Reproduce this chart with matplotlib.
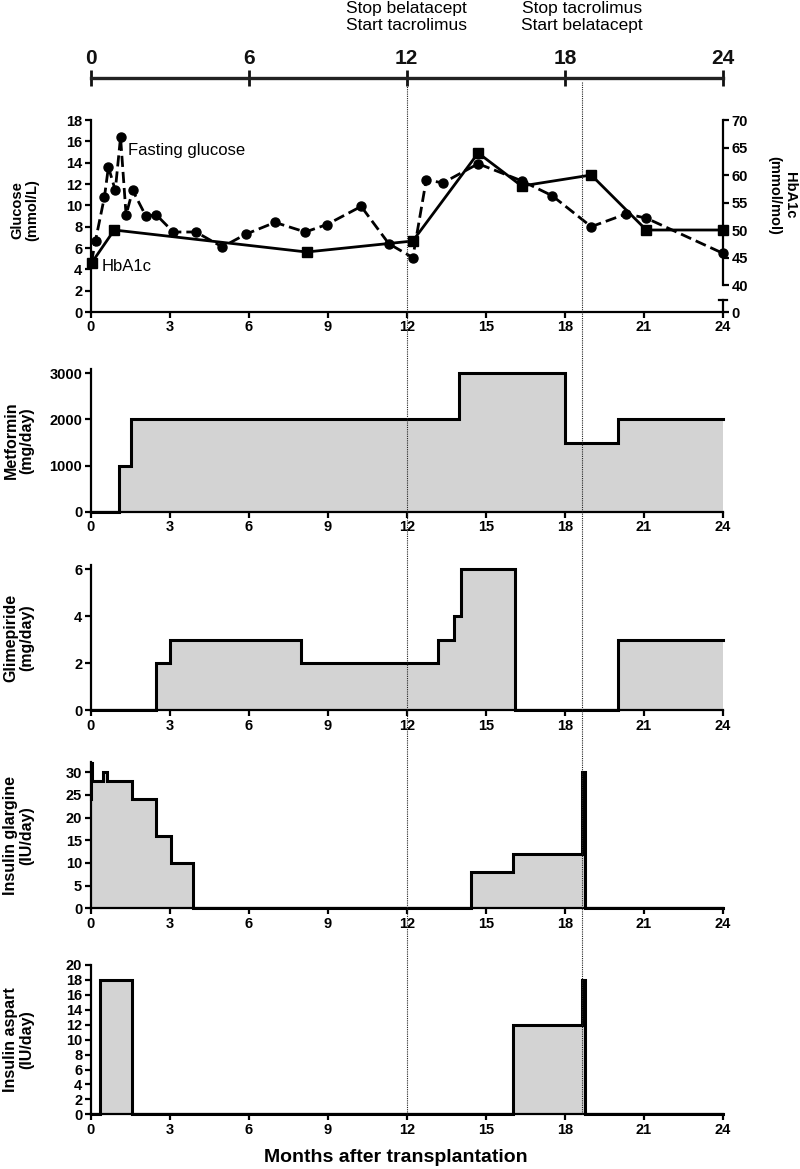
import matplotlib
matplotlib.use('Agg')
import matplotlib.pyplot as plt
from matplotlib.lines import Line2D
import matplotlib.transforms as mtransforms

W, H = 800, 1169
NARROW = ['Liberation Sans Narrow', 'Liberation Sans', 'DejaVu Sans']
SANS = ['Liberation Sans', 'DejaVu Sans']
plt.rcParams['font.family'] = SANS

# ---------------- data ----------------
timeline_ticks = [0, 6, 12, 18, 24]
panel_xticks = [0, 3, 6, 9, 12, 15, 18, 21, 24]
event_months = [12.0, 18.65]
event_labels = ['Stop belatacept\nStart tacrolimus', 'Stop tacrolimus\nStart belatacept']

glucose_month = [0.04, 0.19, 0.53, 0.68, 0.94, 1.14, 1.35, 1.6, 2.1, 2.5, 3.14, 4.0, 5.0,
                 5.9, 7.0, 8.15, 8.97, 10.27, 11.32, 12.23, 12.74, 13.37, 14.71, 16.36,
                 17.52, 19.0, 20.33, 21.09, 24.0]
glucose_mmol = [4.7, 6.7, 10.8, 13.6, 11.4, 16.4, 9.1, 11.4, 9.0, 9.1, 7.5, 7.5, 6.1,
                7.3, 8.4, 7.5, 8.2, 9.9, 6.4, 5.1, 12.4, 12.1, 13.9, 12.3,
                10.9, 8.0, 9.2, 8.8, 5.5]

hba1c_month = [0.04, 0.9, 8.2, 12.23, 14.71, 16.36, 19.0, 21.09, 24.0]
hba1c_mmolmol = [44, 50, 46, 48, 64, 58, 60, 50, 50]

glucose_yticks = [0, 2, 4, 6, 8, 10, 12, 14, 16, 18]
hba1c_yticks = [40, 45, 50, 55, 60, 65, 70]

metformin_month = [0, 1.1, 1.55, 14.0, 18.0, 20.0, 24]
metformin_dose = [0, 1000, 2000, 3000, 1500, 2000, 2000]
metformin_yticks = [0, 1000, 2000, 3000]

glimepiride_month = [0, 2.5, 3.0, 8.0, 13.2, 13.8, 14.05, 16.1, 20.0, 24]
glimepiride_dose = [0, 2, 3, 2, 3, 4, 6, 0, 3, 3]
glimepiride_yticks = [0, 2, 4, 6]

glargine_month = [0, 0.02, 0.05, 0.47, 0.63, 1.58, 2.49, 3.04, 3.9, 14.42, 16.04, 18.66, 18.78, 24]
glargine_dose = [24, 32, 28, 30, 28, 24, 16, 10, 0, 8, 12, 30, 0, 0]
glargine_yticks = [0, 5, 10, 15, 20, 25, 30]

aspart_month = [0, 0.35, 1.58, 16.04, 18.66, 18.78, 24]
aspart_dose = [0, 18, 0, 12, 18, 0, 0]
aspart_yticks = [0, 2, 4, 6, 8, 10, 12, 14, 16, 18, 20]

# ---------------- layout helpers ----------------
LEFT, RIGHT = 90.5, 723.0
TICK_SIZE = 10.5


def rect(top, bottom, left=LEFT, right=RIGHT):
    return [left / W, 1 - bottom / H, (right - left) / W, (bottom - top) / H]


def fx(px):
    return px / W


def fy(py):
    return 1 - py / H


fig = plt.figure(figsize=(W / 100, H / 100), dpi=100)


def style_labels(labels):
    for lab in labels:
        lab.set_fontfamily(NARROW)
        lab.set_fontweight('bold')
        lab.set_fontsize(TICK_SIZE)


def style_axes(ax, yticks, ylim):
    ax.set_xlim(0, 24)
    ax.set_ylim(*ylim)
    for s in ['top', 'right']:
        ax.spines[s].set_visible(False)
    for s in ['left', 'bottom']:
        ax.spines[s].set_linewidth(1.6)
    ax.set_xticks(panel_xticks)
    ax.set_yticks(yticks)
    ax.tick_params(direction='out', length=4, width=1.6, pad=2)
    style_labels(ax.get_xticklabels() + ax.get_yticklabels())


# ---------------- timeline ----------------
axT = fig.add_axes([fx(LEFT), fy(77.7), (RIGHT - LEFT) / W, 0.0001])
axT.set_xlim(0, 24)
axT.set_yticks([])
for s in ['left', 'right', 'bottom']:
    axT.spines[s].set_visible(False)
axT.spines['top'].set_linewidth(2.4)
axT.spines['top'].set_color('#222222')
axT.xaxis.set_ticks_position('top')
axT.set_xticks(timeline_ticks)
axT.tick_params(axis='x', direction='inout', length=12, width=2, pad=1, colors='#111111')
for lab in axT.get_xticklabels():
    lab.set_fontfamily(NARROW)
    lab.set_fontweight('bold')
    lab.set_fontsize(15)

for m, txt in zip(event_months, event_labels):
    fig.text(fx(LEFT + m / 24 * (RIGHT - LEFT)), fy(17), txt, ha='center', va='center',
             fontsize=12.5, family=NARROW, linespacing=1.15)

# ---------------- glucose / HbA1c ----------------
axG = fig.add_axes(rect(120, 312))
axG.plot(glucose_month, glucose_mmol, color='black', lw=2.0, ls=(0, (4, 1.8)),
         marker='o', ms=6.5, clip_on=False, zorder=3)
style_axes(axG, glucose_yticks, (0, 18))
axG.text(1.42, 15.1, 'Fasting glucose', fontsize=12, va='center', ha='left')
axG.text(0.42, 4.25, 'HbA1c', fontsize=12, va='center', ha='left')

h_low = 40 - 27 / 5.5
axH = axG.twinx()
axH.set_ylim(h_low, 70)
axH.plot(hba1c_month, hba1c_mmolmol, color='black', lw=2.0, marker='s', ms=6.5,
         clip_on=False, zorder=3)
for s in ['top', 'left', 'bottom']:
    axH.spines[s].set_visible(False)
axH.spines['right'].set_bounds(40, 70)
axH.spines['right'].set_linewidth(1.6)
axH.set_yticks([h_low] + hba1c_yticks)
axH.set_yticklabels(['0'] + [str(v) for v in hba1c_yticks])
axH.tick_params(direction='out', length=4, width=1.6, pad=2)
style_labels(axH.get_yticklabels())
trans = mtransforms.blended_transform_factory(axH.transAxes, axH.transData)
brk_top = h_low + 12 / 5.5
axH.add_line(Line2D([1, 1], [h_low, brk_top], transform=trans, color='black', lw=1.6, clip_on=False))
axH.add_line(Line2D([1 - 4 / 632.5, 1 + 4 / 632.5], [brk_top, brk_top], transform=trans,
                    color='black', lw=1.6, clip_on=False))

fig.text(fx(25), fy(210), 'Glucose\n(mmol/L)', rotation=90, ha='center', va='center',
         fontsize=10.5, weight='bold', linespacing=1.1, multialignment='center')
fig.text(fx(782), fy(195), 'HbA1c\n(mmol/mol)', rotation=270, ha='center', va='center',
         fontsize=10.5, weight='bold', linespacing=1.1, multialignment='center')


# ---------------- dose panels ----------------
def dose_panel(top, zero, ymax, yticks, t, d, label):
    ax = fig.add_axes(rect(top, zero))
    ax.fill_between(t, d, step='post', color='#d3d3d3', lw=0, zorder=1)
    ax.step(t, d, where='post', color='black', lw=2.2, clip_on=False, zorder=3,
            solid_joinstyle='miter')
    style_axes(ax, yticks, (0, ymax))
    fig.text(fx(19), fy((top + zero) / 2), label, rotation=90, ha='center', va='center',
             fontsize=11.5, weight='bold', linespacing=1.1, multialignment='center')
    return ax


dose_panel(368.7, 511.7, 3100, metformin_yticks, metformin_month, metformin_dose,
           'Metformin\n(mg/day)')
dose_panel(564.6, 710.3, 6.2, glimepiride_yticks, glimepiride_month, glimepiride_dose,
           'Glimepiride\n(mg/day)')
dose_panel(762.3, 908.3, 32.2, glargine_yticks, glargine_month, glargine_dose,
           'Insulin glargine\n(IU/day)')
dose_panel(965.0, 1114.3, 20, aspart_yticks, aspart_month, aspart_dose,
           'Insulin aspart\n(IU/day)')

fig.text(fx(396), fy(1158), 'Months after transplantation', ha='center', va='center',
         fontsize=14, weight='bold')

# ---------------- event lines ----------------
for m in event_months:
    x = fx(LEFT + m / 24 * (RIGHT - LEFT))
    fig.add_artist(Line2D([x, x], [fy(82), fy(1114)], color='#222222', lw=0.8,
                          ls=(0, (1, 1)), zorder=5))

fig.savefig('out.png', dpi=100)
